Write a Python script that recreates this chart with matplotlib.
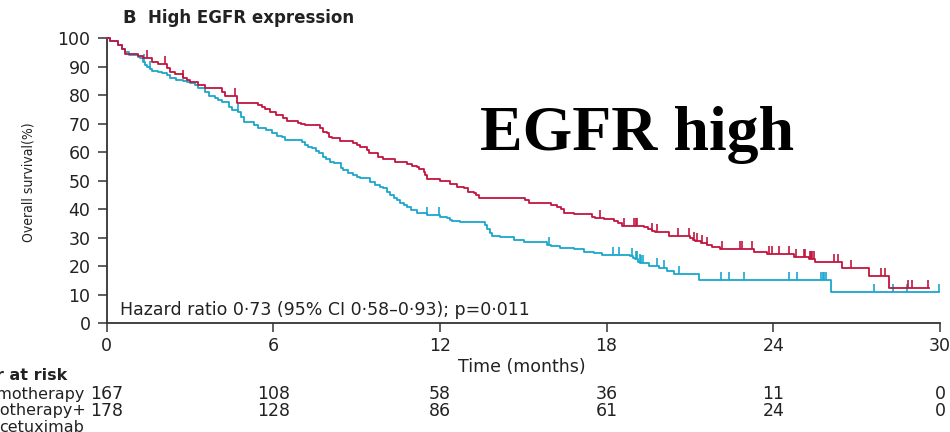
import numpy as np
import matplotlib
matplotlib.use("Agg")
import matplotlib.pyplot as plt
from matplotlib import font_manager
from matplotlib.transforms import blended_transform_factory

# chemotherapy + cetuximab (red): drop times (months) and survival after drop (%)
cetux_t = [0, 0.13, 0.43, 0.55, 0.67, 1.15, 1.33, 1.63, 1.87, 2.17, 2.3, 2.47, 2.77, 2.9, 3.0,
           3.31, 3.55, 4.15, 4.27, 4.69, 5.47, 5.6, 5.71, 5.89, 6.1, 6.37, 6.49, 6.91, 7.0, 7.15,
           7.69, 7.8, 7.93, 8.0, 8.11, 8.41, 8.89, 9.0, 9.13, 9.37, 9.45, 9.79, 9.97, 10.39, 10.81,
           11.0, 11.17, 11.25, 11.41, 11.47, 11.53, 12.01, 12.37, 12.6, 12.85, 13.0, 13.21, 13.3,
           13.39, 15.07, 15.19, 15.85, 16.0, 16.21, 16.35, 16.45, 16.81, 17.47, 17.6, 17.89, 18.25,
           18.4, 18.55, 19.33, 19.5, 19.63, 19.75, 20.23, 21.01, 21.1, 21.19, 21.4, 21.61, 21.8,
           22.09, 23.29, 23.77, 24.73, 25.27, 25.51, 26.47, 27.43, 28.15]
cetux_s = [100, 99, 97.5, 96, 94.5, 93.7, 92.9, 91.7, 90.8, 89.5, 88.2, 87.3, 86, 85.3, 84.5,
           83.5, 82.4, 81.2, 79.7, 77.1, 76.5, 75.9, 75.2, 74.2, 73.0, 71.9, 71.0, 70.3, 69.9, 69.5,
           68.3, 67.2, 66.6, 65.4, 64.8, 64.0, 63.1, 62.5, 61.9, 60.7, 59.6, 58.4, 57.5, 56.6, 55.8,
           55.1, 54.9, 54.0, 53.1, 52.0, 50.6, 49.9, 49.0, 47.9, 47.3, 46.1, 45.6, 44.8,
           44.0, 43.2, 42.3, 42.1, 41.5, 40.9, 39.9, 38.8, 38.3, 37.2, 36.8, 36.5, 35.8,
           35.2, 34.1, 33.6, 33.0, 32.4, 31.9, 30.6, 29.8, 29.1, 28.9, 28.3, 27.4, 26.8,
           25.9, 25.1, 24.3, 23.4, 22.4, 21.6, 19.3, 16.6, 12.5]
cetux_end = 29.59
cetux_cens = [1.45, 2.1, 2.77, 4.63, 17.77, 18.61, 18.97, 19.07, 19.11, 19.63, 19.81, 20.56,
              20.95, 21.13, 21.25, 21.43, 21.61, 22.15, 22.81, 22.89, 23.23, 23.83, 23.95, 24.19,
              24.55, 24.83, 25.09, 25.15, 25.31, 25.36, 25.41, 25.46, 26.2, 26.32, 26.8, 27.88,
              28.03, 28.85, 29.0, 29.57]

# chemotherapy alone (blue)
chemo_t = [0, 0.13, 0.43, 0.55, 0.67, 0.8, 1.15, 1.2, 1.33, 1.4, 1.45, 1.55, 1.63, 1.87, 2.0,
           2.17, 2.3, 2.5, 2.77, 2.9, 3.0, 3.2, 3.31, 3.55, 3.7, 3.9, 4.0, 4.15, 4.4, 4.5, 4.75,
           4.85, 4.95, 5.3, 5.45, 5.75, 5.95, 6.13, 6.3, 6.43, 7.03, 7.15, 7.25, 7.4, 7.55, 7.65,
           7.79, 7.9, 8.05, 8.2, 8.43, 8.53, 8.7, 8.89, 9.0, 9.13, 9.49, 9.65, 9.85, 9.95,
           10.09, 10.2, 10.33, 10.45, 10.57, 10.7, 10.81, 10.95, 11.17, 11.53, 12.01, 12.25, 12.35,
           12.43, 12.73, 13.63, 13.7, 13.8, 13.87, 14.17, 14.65, 15.01, 15.85, 16.0, 16.33, 16.81,
           17.17, 17.53, 17.83, 18.85, 18.95, 19.03, 19.12, 19.21, 19.51, 19.87, 20.17, 20.41,
           21.31, 26.08]
chemo_s = [100, 99, 97.5, 96, 95, 94.0, 93.4, 92.9, 91.7, 90.5, 89.7, 89.0, 88.5, 88.2, 87.6,
           87.0, 85.9, 85.3, 85.0, 84.7, 84.1, 83.5, 82.4, 81.2, 79.5, 78.9, 78.3, 77.7, 75.9, 74.8,
           74.2, 72.4, 70.7, 69.6, 68.4, 67.8, 66.6, 65.8, 65.3, 64.3, 63.7, 62.5, 61.9, 61.3, 60.3,
           59.6, 58.4, 57.5, 56.7, 56.1, 54.3, 53.7, 52.6, 52.0, 51.4, 50.8, 49.6, 48.5, 47.9,
           47.3, 46.1, 44.9, 43.8, 43.2, 42.3, 41.5, 40.9, 39.7, 38.8, 38.0, 37.4, 36.8, 36.2,
           36.0, 35.4, 34.5, 33.0, 31.5, 30.6, 30.1, 29.2, 28.6, 27.4, 27.1, 26.3, 25.9,
           25.1, 24.5, 24.0, 23.5, 22.8, 22.4, 21.6, 21.0, 20.1, 19.3, 18.3, 17.3,
           15.3, 11.1]
chemo_end = 29.95
chemo_cens = [1.36, 1.57, 4.75, 11.53, 11.98, 15.91, 18.23, 18.43, 18.91, 19.07, 19.11, 19.19,
              19.24, 19.31, 19.83, 20.08, 20.59, 22.12, 22.39, 22.96, 24.55, 24.85, 25.72, 25.78,
              25.84, 25.91, 27.64, 28.31, 28.82, 29.95]

risk_times = [0, 6, 12, 18, 24, 30]
risk_chemo = [167, 108, 58, 36, 11, 0]
risk_cetux = [178, 128, 86, 61, 24, 0]

RED = '#c2153f'
BLUE = '#1aa7cd'
INK = '#222222'

# look for a narrow face for the rotated y label
narrow_prop = None
for f in font_manager.fontManager.ttflist:
    low = f.fname.lower()
    if 'narrow' in low or 'condensed' in low:
        if 'bold' not in low and 'oblique' not in low and 'italic' not in low:
            narrow_prop = font_manager.FontProperties(fname=f.fname, size=10)
            break
if narrow_prop is None:
    narrow_prop = font_manager.FontProperties(family='Liberation Sans', size=8)

W, H = 950, 432


def fx(px):
    return px / W


def fy(py):
    return 1 - py / H


def surv_at(t, s, x):
    i = np.searchsorted(t, x, side='right') - 1
    return np.array(s)[i]


fig = plt.figure(figsize=(9.5, 4.32), dpi=100)
ax = fig.add_axes([fx(106.5), fy(323.3), fx(940) - fx(106.5), fy(38) - fy(323.3)])

tick_mark = [(0, 0), (0, 1)]


def draw_curve(t, s, end, cens, color):
    t = np.array(t)
    ax.step(list(t) + [end], list(s) + [s[-1]], where='post', color=color, lw=1.3,
            clip_on=False, zorder=3)
    cs = surv_at(t, s, np.array(cens))
    ax.plot(cens, cs, ls='none', marker=tick_mark, markersize=12, mew=1.2, color=color,
            clip_on=False, zorder=3)


draw_curve(chemo_t, chemo_s, chemo_end, chemo_cens, BLUE)
draw_curve(cetux_t, cetux_s, cetux_end, cetux_cens, RED)

ax.set_xlim(0, 30)
ax.set_ylim(0, 100)
ax.set_xticks(risk_times)
ax.set_yticks(range(0, 101, 10))
for side in ['top', 'right']:
    ax.spines[side].set_visible(False)
for side in ['left', 'bottom']:
    ax.spines[side].set_color('#333333')
    ax.spines[side].set_linewidth(1.3)
ax.tick_params(axis='both', direction='out', length=6.5, width=1.1, color='#333333',
               labelsize=12.5, labelcolor=INK)
ax.tick_params(axis='y', pad=5)
ax.tick_params(axis='x', pad=3.5)

fig.text(fx(28), fy(182), 'Overall survival(%)', rotation=90, ha='center', va='center',
         fontproperties=narrow_prop, color=INK)
fig.text(fx(522), fy(367), 'Time (months)', ha='center', va='center', fontsize=12.5,
         color=INK)

fig.text(fx(120), fy(310), 'Hazard ratio 0\u00b773 (95% CI 0\u00b758\u20130\u00b793); p=0\u00b7011',
         ha='left', va='center', fontsize=12.5, color=INK)

fig.text(fx(122), fy(18), 'B', ha='left', va='center', fontsize=13, fontweight='bold',
         color=INK)
fig.text(fx(148), fy(18), 'High EGFR expression', ha='left', va='center', fontsize=12,
         fontweight='bold', color=INK)

fig.text(fx(480), fy(150), 'EGFR high', ha='left', va='baseline', fontsize=46,
         fontweight='bold', family='Liberation Serif', color='black')

# number at risk table
fig.text(fx(67), fy(375), 'Number at risk', ha='right', va='center', fontsize=11.5,
         fontweight='bold', color=INK)
fig.text(fx(84), fy(394), 'Chemotherapy', ha='right', va='center', fontsize=11.5, color=INK)
fig.text(fx(86), fy(411), 'Chemotherapy+', ha='right', va='center', fontsize=11.5, color=INK)
fig.text(fx(84), fy(428), 'cetuximab', ha='right', va='center', fontsize=11.5, color=INK)

tr = blended_transform_factory(ax.transData, fig.transFigure)
for t, a, b in zip(risk_times, risk_chemo, risk_cetux):
    ax.text(t, fy(394), str(a), transform=tr, ha='center', va='center', fontsize=12.5,
            color=INK, clip_on=False)
    ax.text(t, fy(411), str(b), transform=tr, ha='center', va='center', fontsize=12.5,
            color=INK, clip_on=False)

fig.savefig('out.png', dpi=100)
